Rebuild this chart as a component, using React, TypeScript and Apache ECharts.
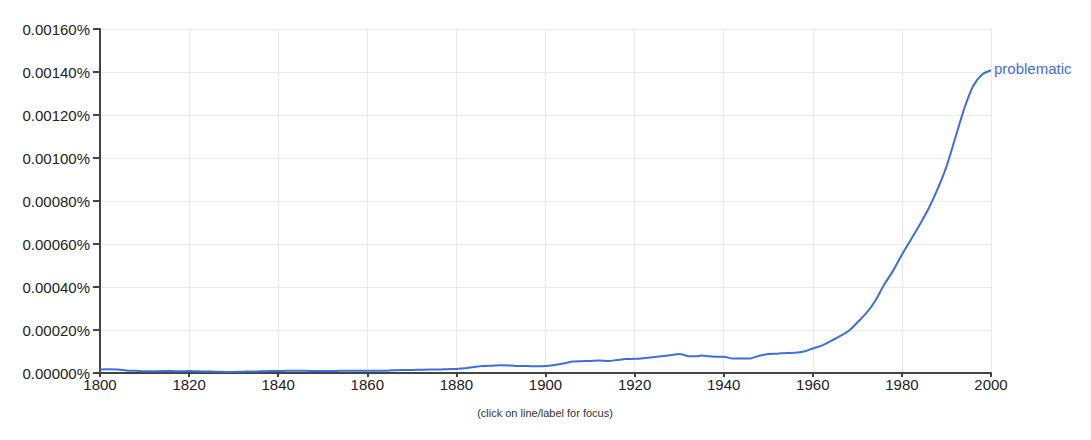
import React, { useEffect, useRef } from "react";
import * as echarts from "echarts";

const years: number[] = [
  1800, 1802, 1804, 1806, 1808, 1810, 1812, 1814, 1816, 1818,
  1820, 1822, 1824, 1826, 1828, 1830, 1832, 1834, 1836, 1838,
  1840, 1842, 1844, 1846, 1848, 1850, 1852, 1854, 1856, 1858,
  1860, 1862, 1864, 1866, 1868, 1870, 1872, 1874, 1876, 1878,
  1880, 1882, 1884, 1886, 1888, 1890, 1892, 1894, 1896, 1898,
  1900, 1902, 1904, 1906, 1908, 1910, 1912, 1914, 1916, 1918,
  1920, 1922, 1924, 1926, 1928, 1930, 1931, 1932, 1934, 1935,
  1936, 1938, 1940, 1942, 1944, 1946, 1948, 1950, 1952, 1954,
  1956, 1958, 1960, 1962, 1964, 1966, 1968, 1970, 1972, 1974,
  1976, 1978, 1980, 1982, 1984, 1986, 1988, 1990, 1992, 1994,
  1996, 1998, 2000,
];

const problematic: number[] = [
  0.0000165, 0.000018, 0.000016, 0.000012, 0.00001, 0.000008, 0.000008, 0.000009, 0.000009, 0.000008,
  0.000009, 0.000008, 0.000007, 0.000006, 0.000005, 0.000005, 0.000006, 0.000007, 0.000008, 0.000009,
  0.000009, 0.00001, 0.00001, 0.00001, 0.000009, 0.000009, 0.000009, 0.00001, 0.00001, 0.00001,
  0.00001, 0.00001, 0.000011, 0.000013, 0.000014, 0.000014, 0.000015, 0.000016, 0.000016, 0.000018,
  0.000019, 0.000022, 0.000028, 0.000032, 0.000034, 0.000036, 0.000035, 0.000033, 0.000032, 0.000031,
  0.000032, 0.000037, 0.000044, 0.000053, 0.000055, 0.000056, 0.000058, 0.000056, 0.00006, 0.000065,
  0.000066, 0.000069, 0.000073, 0.000078, 0.000083, 0.000088, 0.000085, 0.000078, 0.000078, 0.000081,
  0.000079, 0.000076, 0.000076, 0.000067, 0.000067, 0.000068, 0.00008, 0.000088, 0.00009, 0.000093,
  0.000094, 0.0001, 0.000114, 0.000127, 0.000148, 0.00017, 0.000195, 0.000235, 0.000278, 0.000335,
  0.00041, 0.000475, 0.00055, 0.00062, 0.00069, 0.000765, 0.000855, 0.00096, 0.001095, 0.00123,
  0.001335, 0.001388, 0.001408,
];

const seriesName = "problematic";
const footnote = "(click on line/label for focus)";

export default function App() {
  const ref = useRef<HTMLDivElement>(null);
  useEffect(() => {
    if (!ref.current) return;
    const chart = echarts.init(ref.current, undefined, { renderer: "svg" });
    const font = "'Liberation Sans', Arial, Helvetica, sans-serif";
    chart.setOption({
      animation: false,
      backgroundColor: "#ffffff",
      grid: { left: 100, right: 100, top: 29, bottom: 67, containLabel: false },
      xAxis: {
        type: "value",
        min: 1800,
        max: 2000,
        interval: 20,
        axisLine: { show: true, lineStyle: { color: "#444444", width: 2 } },
        axisTick: { show: true, length: 4, lineStyle: { color: "#444444", width: 2 } },
        axisLabel: {
          color: "#222222",
          fontSize: 15,
          fontFamily: font,
          margin: 4,
          formatter: (v: number) => String(v),
        },
        splitLine: { show: true, lineStyle: { color: "#e8e8e8", width: 1 } },
      },
      yAxis: {
        type: "value",
        min: 0,
        max: 0.0016,
        interval: 0.0002,
        axisLine: { show: true, lineStyle: { color: "#444444", width: 2 } },
        axisTick: { show: true, length: 7, lineStyle: { color: "#444444", width: 2 } },
        axisLabel: {
          color: "#222222",
          fontSize: 15,
          fontFamily: font,
          margin: 10,
          formatter: (v: number) => v.toFixed(5) + "%",
        },
        splitLine: { show: true, lineStyle: { color: "#ebebeb", width: 1 } },
      },
      graphic: [
        {
          type: "text",
          x: 545,
          y: 413,
          style: {
            text: footnote,
            fill: "#333333",
            fontSize: 11,
            fontFamily: font,
            textAlign: "center",
            textVerticalAlign: "middle",
          },
        },
      ],
      series: [
        {
          name: seriesName,
          type: "line",
          data: years.map((y, i) => [y, problematic[i]]),
          showSymbol: false,
          smooth: 0.3,
          lineStyle: { color: "#3c6fdc", width: 2 },
          itemStyle: { color: "#3c6fdc" },
          endLabel: {
            show: true,
            formatter: () => seriesName,
            color: "#3c6fdc",
            fontSize: 15,
            fontFamily: font,
            distance: 3,
            offset: [0, -2],
          },
        },
      ],
    });
    return () => chart.dispose();
  }, []);
  return (
    <div
      ref={ref}
      style={{ position: "absolute", left: 0, top: 0, width: 1091, height: 440 }}
    />
  );
}
